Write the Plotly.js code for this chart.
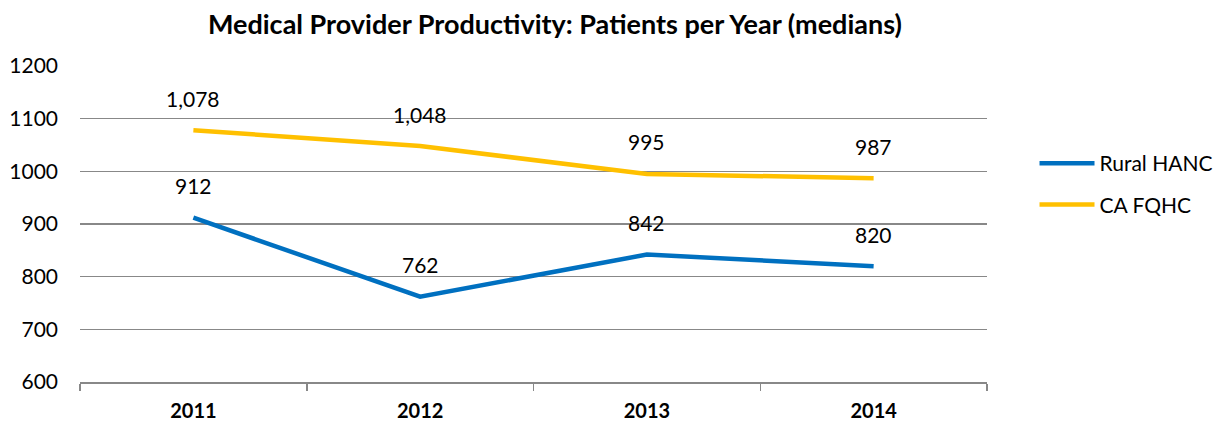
<!DOCTYPE html>
<html>
<head>
<meta charset="utf-8">
<script src="https://cdn.plot.ly/plotly-3.0.1.min.js"></script>
<style>html,body{margin:0;padding:0;background:#fff}#chart{width:1225px;height:424px}</style>
</head>
<body>
<div id="chart"></div>
<script>
const years = ['2011', '2012', '2013', '2014'];
const ruralHANC = [912, 762, 842, 820];
const caFQHC = [1078, 1048, 995, 987];
const seriesNames = ['Rural HANC', 'CA FQHC'];
const seriesColors = ['#0070C0', '#FFC000'];
const chartTitle = 'Medical Provider Productivity: Patients per Year (medians)';

const FONT = 'Lato, "Open Sans", sans-serif';
const allSeries = [ruralHANC, caFQHC];

const traces = allSeries.map((vals, i) => ({
  type: 'scatter',
  mode: 'lines',
  x: years,
  y: vals,
  name: seriesNames[i],
  legendgroup: 'g' + i,
  line: {color: seriesColors[i], width: 4.5},
  hoverinfo: 'x+y'
}));

const annotations = [];
allSeries.forEach((vals) => {
  vals.forEach((v, j) => {
    annotations.push({
      x: j, y: v, xref: 'x', yref: 'y',
      text: v.toLocaleString('en-US'),
      showarrow: false, yshift: 32,
      font: {family: FONT, size: 21, color: '#000'}
    });
  });
});

const layout = {
  width: 1225, height: 424,
  margin: {l: 80, r: 238, t: 66, b: 42, autoexpand: false},
  paper_bgcolor: '#fff', plot_bgcolor: '#fff',
  font: {family: FONT, size: 21, color: '#000'},
  title: {text: '<b>' + chartTitle + '</b>', font: {family: FONT, size: 27, color: '#000'}, x: 0.453, xanchor: 'center', y: 0.943, yanchor: 'middle'},
  xaxis: {
    type: 'category',
    range: [-0.5, 3.5], autorange: false,
    showgrid: false,
    showline: true, linecolor: '#888', linewidth: 1.5,
    ticks: 'outside', tickson: 'boundaries', ticklen: 7, tickcolor: '#888', tickwidth: 1.5,
    ticklabelstandoff: 10,
    tickfont: {family: FONT, size: 20, color: '#000', weight: 'bold'},
    zeroline: false
  },
  yaxis: {
    range: [600, 1200], autorange: false, dtick: 100,
    showgrid: true, gridcolor: '#888', gridwidth: 1.5,
    zeroline: false, showline: false,
    ticks: '', ticklabelstandoff: 21,
    tickfont: {family: FONT, size: 21, color: '#000'}
  },
  showlegend: true,
  legend: {
    xref: 'container', yref: 'container',
    x: 0.8445, y: 0.566, xanchor: 'left', yanchor: 'middle',
    traceorder: 'grouped', tracegroupgap: 11, itemwidth: 55,
    font: {family: FONT, size: 21, color: '#000'},
    bgcolor: 'rgba(0,0,0,0)'
  },
  annotations: annotations
};

Plotly.newPlot('chart', traces, layout, {displayModeBar: false, staticPlot: true});
</script>
</body>
</html>
